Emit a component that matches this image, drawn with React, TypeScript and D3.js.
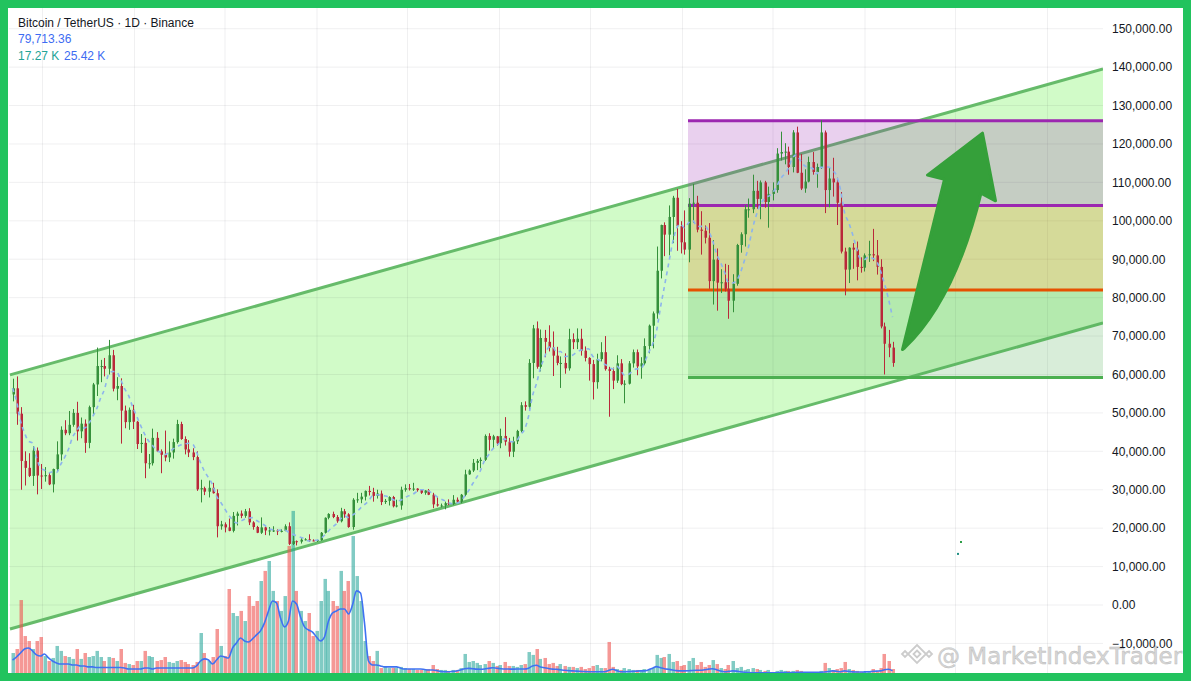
import React from "react";
import * as d3 from "d3";

// ---------- DATA (prices in thousands of USDT, volume in thousands of BTC) ----------
const chartStart = "2021-04-27";
const chartEnd = "2027-04-22";
const firstCandleDate = "2021-04-28";
const candleDays = 8;
const firstOpen = 54.8;

const closes = [
  56.4, 49.8, 37.5, 35.7, 33.6, 40.2, 33.7, 33.5, 33.8, 31.4,
  35.4, 39.2, 45.6, 44.7, 46.9, 50.0, 45.2, 47.2, 42.2, 51.5,
  57.4, 62.2, 62.2, 61.5, 65.0, 56.3, 57.0, 50.6, 47.6, 50.8,
  47.7, 41.9, 42.2, 36.9, 36.9, 43.5, 40.0, 39.1, 38.4, 39.7,
  42.4, 47.1, 43.2, 40.5, 39.7, 38.5, 30.1, 30.4, 29.5, 30.5,
  29.1, 20.5, 21.0, 20.2, 19.3, 23.2, 23.8, 23.2, 24.4, 21.5,
  20.3, 18.8, 20.2, 19.4, 19.4, 19.4, 19.2, 19.3, 20.5, 15.9,
  16.6, 16.5, 17.0, 17.1, 16.8, 16.7, 16.9, 18.8, 22.7, 23.7,
  22.9, 21.8, 24.4, 23.6, 20.3, 27.4, 27.5, 28.2, 29.7, 29.4,
  28.4, 29.0, 26.8, 27.1, 28.1, 25.7, 25.9, 30.0, 30.4, 30.3,
  30.3, 29.9, 29.2, 29.8, 28.7, 26.2, 25.9, 25.9, 26.5, 26.3,
  27.4, 26.9, 28.7, 34.0, 35.0, 37.0, 37.5, 37.8, 44.0, 43.0,
  43.9, 42.1, 44.0, 42.5, 39.9, 42.6, 45.3, 52.0, 51.6, 63.0,
  72.0, 62.0, 69.5, 68.5, 67.0, 64.9, 63.0, 63.0, 61.6, 69.2,
  68.4, 69.3, 66.2, 64.3, 62.7, 58.0, 64.0, 65.8, 61.4, 60.9,
  58.4, 62.9, 57.5, 57.6, 62.9, 65.8, 62.1, 62.9, 67.4, 72.7,
  75.9, 87.0, 98.9, 96.4, 101.0, 106.0, 98.6, 94.4, 92.5, 104.5,
  104.7, 97.7, 97.4, 95.6, 84.3, 89.9, 83.9, 84.0, 82.3, 79.2,
  83.6, 93.7, 96.5, 103.0, 103.0, 107.8, 105.7, 110.0, 104.9, 107.0,
  108.0, 117.5, 117.9, 118.0, 114.0, 123.0, 112.5, 108.4, 110.2, 115.3,
  112.7, 114.0, 123.0, 108.0, 111.0, 110.0, 104.7, 92.0, 87.3, 93.0,
  92.5, 88.0, 87.8, 91.0, 91.3, 91.0, 88.0, 72.5, 68.0, 67.0,
  63.0,
];

const highs = [
  58.9, 59.5, 51.5, 40.0, 39.5, 41.3, 41.0, 36.7, 35.9, 34.6,
  35.5, 42.6, 46.5, 48.1, 50.5, 51.0, 52.9, 48.8, 48.3, 51.9,
  57.8, 67.0, 63.8, 64.3, 69.0, 66.4, 59.3, 59.0, 51.9, 51.4,
  52.1, 47.9, 44.5, 43.5, 39.3, 45.9, 45.0, 40.5, 45.4, 42.6,
  43.3, 48.2, 47.7, 43.9, 42.9, 40.8, 40.0, 32.6, 30.8, 32.4,
  31.8, 30.1, 21.9, 21.5, 22.5, 24.2, 24.3, 24.6, 25.0, 25.2,
  21.8, 20.6, 22.8, 20.5, 20.3, 20.5, 19.7, 19.7, 21.0, 21.5,
  18.0, 16.8, 17.4, 17.4, 18.4, 17.1, 17.0, 19.0, 22.8, 23.9,
  24.3, 23.4, 25.3, 25.0, 23.9, 27.8, 29.2, 29.2, 29.8, 31.0,
  30.5, 30.0, 29.8, 27.6, 28.3, 28.4, 27.4, 30.8, 31.4, 31.5,
  31.8, 30.4, 30.0, 29.9, 30.2, 29.2, 28.1, 26.4, 26.9, 27.5,
  28.6, 28.0, 28.9, 35.2, 35.3, 38.0, 38.0, 38.4, 44.4, 44.7,
  44.3, 44.0, 45.9, 48.9, 43.5, 43.8, 45.6, 52.8, 53.0, 64.0,
  72.9, 73.8, 71.7, 71.6, 72.8, 71.2, 67.2, 64.7, 65.5, 71.9,
  70.7, 72.0, 71.9, 67.3, 64.5, 63.8, 65.4, 68.4, 70.0, 62.0,
  61.8, 65.0, 64.0, 58.5, 63.5, 66.5, 66.5, 64.5, 69.4, 73.0,
  76.4, 93.3, 99.0, 99.6, 104.0, 106.5, 108.3, 99.9, 102.7, 105.9,
  109.6, 106.5, 102.5, 98.8, 99.4, 95.0, 92.8, 87.4, 88.8, 88.5,
  86.1, 94.0, 97.0, 104.1, 105.8, 112.0, 110.4, 110.5, 110.4, 108.9,
  110.0, 118.9, 123.2, 120.2, 119.3, 123.6, 124.5, 117.4, 113.4, 116.7,
  117.9, 114.9, 126.2, 123.5, 113.9, 116.4, 111.2, 107.5, 93.0, 93.1,
  94.2, 94.6, 90.5, 91.5, 94.8, 97.9, 95.0, 90.0, 73.5, 71.6,
  68.5,
];

const lows = [
  53.0, 46.9, 30.0, 31.1, 33.3, 31.0, 28.8, 30.2, 32.1, 31.2,
  29.3, 34.9, 37.6, 44.2, 44.2, 46.4, 42.8, 43.4, 39.6, 40.8,
  49.5, 54.4, 58.0, 59.5, 60.0, 55.6, 53.3, 42.0, 46.0, 45.6,
  45.8, 40.6, 39.6, 33.0, 35.5, 36.3, 39.8, 34.3, 37.4, 37.2,
  38.1, 42.0, 43.0, 39.2, 38.5, 37.7, 29.7, 26.7, 28.6, 28.0,
  29.0, 17.6, 19.6, 18.9, 19.2, 18.9, 20.7, 22.6, 22.7, 20.8,
  19.6, 18.7, 18.5, 18.2, 18.1, 19.0, 18.2, 18.9, 19.2, 15.6,
  15.6, 15.5, 16.0, 16.8, 16.4, 16.6, 16.4, 16.7, 18.6, 22.3,
  22.6, 21.4, 21.5, 22.7, 20.1, 19.6, 26.6, 26.5, 27.2, 28.5,
  26.9, 27.7, 26.0, 26.3, 25.9, 25.4, 25.4, 24.8, 29.5, 29.8,
  29.7, 29.5, 28.9, 28.7, 28.6, 25.2, 25.6, 25.4, 24.9, 26.0,
  26.0, 26.6, 26.5, 28.3, 33.9, 34.6, 35.1, 35.6, 37.5, 40.2,
  40.6, 41.4, 40.8, 41.5, 38.6, 38.5, 41.9, 44.9, 50.6, 50.5,
  59.0, 61.5, 60.8, 64.5, 66.0, 59.6, 62.4, 56.5, 60.2, 61.0,
  66.6, 66.6, 64.9, 63.4, 58.4, 53.5, 56.3, 63.4, 61.0, 49.0,
  56.2, 57.8, 57.2, 52.5, 57.4, 61.8, 59.8, 58.9, 62.4, 65.5,
  66.8, 74.5, 85.0, 90.8, 91.0, 94.2, 92.2, 91.5, 91.2, 89.2,
  99.5, 97.0, 91.2, 94.1, 82.3, 78.2, 76.6, 81.2, 81.6, 74.5,
  76.2, 83.1, 91.7, 93.3, 100.8, 102.0, 103.1, 100.4, 103.4, 98.2,
  105.3, 107.3, 115.7, 114.7, 112.0, 112.6, 112.4, 108.0, 107.3, 110.0,
  112.0, 108.6, 113.5, 102.0, 103.5, 106.3, 98.9, 91.5, 80.6, 83.8,
  87.5, 84.5, 86.5, 86.8, 89.3, 89.5, 86.0, 72.0, 60.0, 64.5,
  62.0,
];

const volumes = [
  125, 150, 456, 231, 200, 150, 200, 225, 106, 75,
  94, 169, 138, 106, 100, 88, 150, 88, 125, 100,
  106, 138, 100, 75, 100, 94, 75, 150, 63, 56,
  50, 75, 75, 138, 106, 100, 75, 81, 100, 69,
  63, 75, 81, 69, 56, 50, 69, 250, 125, 75,
  100, 275, 169, 106, 525, 375, 356, 388, 325, 481,
  419, 450, 575, 638, 700, 513, 450, 388, 481, 794,
  1013, 513, 388, 325, 375, 231, 263, 450, 588, 513,
  450, 419, 638, 513, 575, 856, 606, 450, 200, 106,
  75, 138, 31, 38, 31, 31, 31, 38, 31, 25,
  25, 19, 19, 19, 25, 50, 25, 19, 19, 13,
  19, 19, 31, 119, 69, 75, 63, 50, 56, 75,
  63, 44, 50, 69, 44, 44, 38, 50, 56, 131,
  113, 150, 88, 94, 56, 63, 44, 56, 44, 38,
  38, 31, 38, 25, 31, 44, 50, 31, 31, 194,
  38, 25, 19, 31, 25, 19, 19, 19, 25, 19,
  31, 113, 94, 100, 119, 69, 75, 44, 50, 75,
  94, 50, 69, 38, 50, 81, 56, 31, 25, 50,
  75, 31, 38, 19, 25, 31, 25, 19, 13, 19,
  6, 13, 19, 13, 13, 13, 19, 13, 6, 6,
  6, 6, 13, 63, 31, 19, 25, 31, 69, 25,
  19, 13, 6, 6, 13, 25, 13, 31, 119, 75,
  25,
];

const volumeAverage = [
  81, 100, 125, 150, 156, 138, 113, 106, 119, 94,
  75, 63, 56, 56, 56, 50, 50, 44, 44, 38,
  38, 34, 34, 34, 34, 34, 34, 34, 31, 25,
  25, 25, 25, 31, 31, 25, 31, 31, 31, 31,
  31, 31, 31, 31, 31, 31, 44, 75, 88, 81,
  56, 81, 106, 100, 94, 156, 188, 219, 200, 194,
  213, 238, 263, 313, 388, 450, 438, 344, 288, 325,
  450, 431, 350, 288, 269, 256, 225, 200, 225, 325,
  375, 388, 400, 400, 369, 425, 513, 500, 313, 75,
  50, 50, 44, 38, 38, 38, 38, 31, 25, 25,
  25, 25, 25, 22, 19, 19, 16, 10, 8, 8,
  10, 13, 19, 27, 29, 27, 24, 23, 25, 29,
  33, 30, 27, 25, 25, 24, 25, 25, 25, 30,
  44, 48, 38, 33, 28, 24, 23, 20, 17, 15,
  13, 12, 10, 9, 8, 8, 8, 8, 8, 15,
  23, 15, 8, 8, 9, 10, 12, 13, 13, 20,
  30, 40, 33, 27, 23, 19, 15, 13, 13, 14,
  16, 17, 17, 20, 24, 27, 20, 12, 8, 10,
  13, 12, 8, 5, 3, 2, 2, 2, 2, 2,
  2, 2, 3, 3, 3, 3, 4, 4, 4, 4,
  4, 5, 5, 6, 9, 13, 11, 8, 13, 10,
  7, 6, 6, 7, 8, 10, 12, 13, 20, 23,
  13,
];

const priceTicks = [150, 140, 130, 120, 110, 100, 90, 80, 70, 60, 50, 40, 30, 20, 10, 0, -10];

// parallel channel: price at chartStart and at chartEnd
const channelUpper = [59.9, 139.5];
const channelLower = [-6.25, 73.4];

// range box
const zoneStartDate = "2025-01-12";
const zoneLevels = [126.05, 104.0, 82.0, 59.2];
const zoneFills = ["rgba(156,39,176,0.22)", "rgba(224,128,26,0.27)", "rgba(76,175,80,0.22)"];
const zoneLineColors = ["#9c27b0", "#9c27b0", "#e65100", "#4caf50"];

// arrow annotation anchors (date, price)
const arrowPoints: [string, number][] = [
  ["2026-03-17", 66.5],
  ["2026-06-09", 110.8],
  ["2026-05-06", 111.9],
  ["2026-08-24", 122.8],
  ["2026-09-19", 105.2],
  ["2026-08-21", 107.2],
];
const arrowCurve: [string, number][] = [
  ["2026-06-30", 79.4],
  ["2026-03-21", 66.9],
];
const strayMarks: [string, number, string][] = [
  ["2026-07-12", 16.4, "#2e9e48"],
  ["2026-07-06", 13.3, "#1f8f83"],
];

const legendTitle = "Bitcoin / TetherUS · 1D · Binance";
const legendPrice = "79,713.36";
const legendVolume = "17.27 K";
const legendVolumeMA = "25.42 K";

// ---------- COMPONENT ----------
const parse = d3.utcParse("%Y-%m-%d");
const AXIS_FONT = "'Liberation Sans', Arial, sans-serif";

export default function App() {
  const W = 1191;
  const H = 681;
  const plotLeft = 9;
  const plotRight = 1103;
  const plotTop = 8;
  const plotBottom = 673;

  const x = d3
    .scaleUtc()
    .domain([parse(chartStart)!, parse(chartEnd)!])
    .range([10, plotRight]);
  const y = d3.scaleLinear().domain([0, 150]).range([605, 28.7]);
  const yv = d3.scaleLinear().domain([0, 1050]).range([plotBottom, plotBottom - 168]);

  const first = parse(firstCandleDate)!;
  const opens = [firstOpen, ...closes.slice(0, -1)];
  const candles = closes.map((c, i) => {
    const t = d3.utcHour.offset(d3.utcDay.offset(first, candleDays * i), candleDays * 12);
    return { t, o: opens[i], h: highs[i], l: lows[i], c, v: volumes[i], va: volumeAverage[i] };
  });

  // 6-candle (~50 day) simple moving average
  const ma = candles.map((d, i) => ({
    t: d.t,
    v: d3.mean(closes.slice(Math.max(0, i - 5), i + 1))!,
  }));

  const maLine = d3
    .line<{ t: Date; v: number }>()
    .x((d) => x(d.t))
    .y((d) => y(d.v))
    .curve(d3.curveMonotoneX);
  const volLine = d3
    .line<(typeof candles)[number]>()
    .x((d) => x(d.t))
    .y((d) => yv(d.va))
    .curve(d3.curveMonotoneX);

  const d0 = parse(chartStart)!;
  const d1 = parse(chartEnd)!;
  const chanPoly = [
    [x(d0), y(channelUpper[0])],
    [x(d1), y(channelUpper[1])],
    [x(d1), y(channelLower[1])],
    [x(d0), y(channelLower[0])],
  ]
    .map((p) => p.join(","))
    .join(" ");

  const zx0 = x(parse(zoneStartDate)!);

  const ap = arrowPoints.map(([d, p]) => [x(parse(d)!), y(p)]);
  const ac = arrowCurve.map(([d, p]) => [x(parse(d)!), y(p)]);
  const arrowPath =
    `M${ap[0][0]},${ap[0][1]} ` +
    ap
      .slice(1)
      .map((p) => `L${p[0]},${p[1]}`)
      .join(" ") +
    ` Q${ac[0][0]},${ac[0][1]} ${ac[1][0]},${ac[1][1]} Z`;

  const vTicks = x.ticks(d3.utcMonth.every(6)!);
  const fmt = d3.format(",.2f");

  const up = "#35903b";
  const down = "#b9283a";

  return (
    <svg
      width={W}
      height={H}
      style={{ position: "absolute", left: 0, top: 0, display: "block" }}
      xmlns="http://www.w3.org/2000/svg"
    >
      <defs>
        <clipPath id="plot">
          <rect x={plotLeft} y={plotTop} width={plotRight - plotLeft} height={plotBottom - plotTop} />
        </clipPath>
      </defs>
      <rect x={0} y={0} width={W} height={H} fill="#ffffff" />

      <g clipPath="url(#plot)">
        {/* channel fill */}
        <polygon points={chanPoly} fill="#d1fbc8" />

        {/* grid */}
        {priceTicks.map((t) => (
          <line key={"h" + t} x1={plotLeft} x2={plotRight} y1={y(t)} y2={y(t)} stroke="rgba(42,46,57,0.07)" strokeWidth={1} />
        ))}
        {vTicks.map((t, i) => (
          <line key={"v" + i} x1={x(t)} x2={x(t)} y1={plotTop} y2={plotBottom} stroke="rgba(42,46,57,0.07)" strokeWidth={1} />
        ))}

        {/* channel borders */}
        <line x1={x(d0)} y1={y(channelUpper[0])} x2={x(d1)} y2={y(channelUpper[1])} stroke="#66bb6a" strokeWidth={3} />
        <line x1={x(d0)} y1={y(channelLower[0])} x2={x(d1)} y2={y(channelLower[1])} stroke="#66bb6a" strokeWidth={3} />

        {/* range zones */}
        {zoneFills.map((f, i) => (
          <rect
            key={"z" + i}
            x={zx0}
            y={y(zoneLevels[i])}
            width={plotRight - zx0}
            height={y(zoneLevels[i + 1]) - y(zoneLevels[i])}
            fill={f}
          />
        ))}
        {zoneLevels.map((lv, i) => (
          <line key={"zl" + i} x1={zx0} x2={plotRight} y1={y(lv)} y2={y(lv)} stroke={zoneLineColors[i]} strokeWidth={3} />
        ))}

        {/* volume */}
        {candles.map((d, i) => (
          <rect
            key={"vb" + i}
            x={Math.round(x(d.t)) - 1.5}
            y={yv(d.v)}
            width={3.5}
            height={yv(0) - yv(d.v)}
            fill={d.c >= d.o ? "rgba(38,166,154,0.58)" : "rgba(239,83,80,0.6)"}
          />
        ))}
        <path d={volLine(candles) || ""} fill="none" stroke="#3f72f2" strokeWidth={1.6} />

        {/* candles */}
        {candles.map((d, i) => {
          const cx = Math.round(x(d.t));
          const col = d.c >= d.o ? up : down;
          const top = y(Math.max(d.o, d.c));
          const bot = y(Math.min(d.o, d.c));
          return (
            <g key={"c" + i}>
              <line x1={cx + 0.5} x2={cx + 0.5} y1={y(d.h)} y2={y(d.l)} stroke={col} strokeWidth={1} />
              <rect x={cx - 0.5} y={top} width={2.5} height={Math.max(1, bot - top)} fill={col} />
            </g>
          );
        })}

        {/* moving average */}
        <path d={maLine(ma) || ""} fill="none" stroke="#8db4ec" strokeWidth={1.6} strokeDasharray="4 4" />

        {/* arrow */}
        <path d={arrowPath} fill="#35a03a" stroke="#35a03a" strokeWidth={3} strokeLinejoin="round" />

        {strayMarks.map(([d, p, c], i) => (
          <rect key={"s" + i} x={x(parse(d)!) - 1} y={y(p) - 1} width={2} height={2} fill={c} />
        ))}
      </g>

      {/* watermark */}
      <g>
        <g fill="none" stroke="#cccccc" strokeWidth={1.8}>
          <path d="M917,645 L926,654 L917,663 L908,654 Z" />
          <path d="M917,650.5 L920.5,654 L917,657.5 L913.5,654 Z" />
          <path d="M905,651 L908,654 L905,657 L902,654 Z" />
          <path d="M929,651 L932,654 L929,657 L926,654 Z" />
        </g>
        <text
          x={937}
          y={663.5}
          fontFamily="'DejaVu Sans', sans-serif"
          fontSize={23}
          fill="#d6d6d6"
          stroke="#b8b8b8"
          strokeWidth={0.4}
        >
          @ MarketIndexTrader
        </text>
      </g>

      {/* price axis labels */}
      {priceTicks.map((t) => (
        <text key={"t" + t} x={1112} y={y(t) + 4.3} fontFamily={AXIS_FONT} fontSize={12} fill="#131722">
          {fmt(t * 1000)}
        </text>
      ))}

      {/* legend */}
      <text x={18} y={26.5} fontFamily={AXIS_FONT} fontSize={12} fill="#131722">
        {legendTitle}
      </text>
      <text x={18} y={43.3} fontFamily={AXIS_FONT} fontSize={12} fill="#3d6cf2">
        {legendPrice}
      </text>
      <text x={18} y={60} fontFamily={AXIS_FONT} fontSize={12} fill="#22a396">
        {legendVolume}
      </text>
      <text x={64} y={60} fontFamily={AXIS_FONT} fontSize={12} fill="#3d6cf2">
        {legendVolumeMA}
      </text>

      {/* green frame */}
      <rect x={0} y={0} width={W} height={8} fill="#22c35e" />
      <rect x={0} y={plotBottom} width={W} height={H - plotBottom} fill="#22c35e" />
      <rect x={0} y={0} width={8} height={H} fill="#22c35e" />
      <rect x={1183} y={0} width={W - 1183} height={H} fill="#22c35e" />
    </svg>
  );
}
